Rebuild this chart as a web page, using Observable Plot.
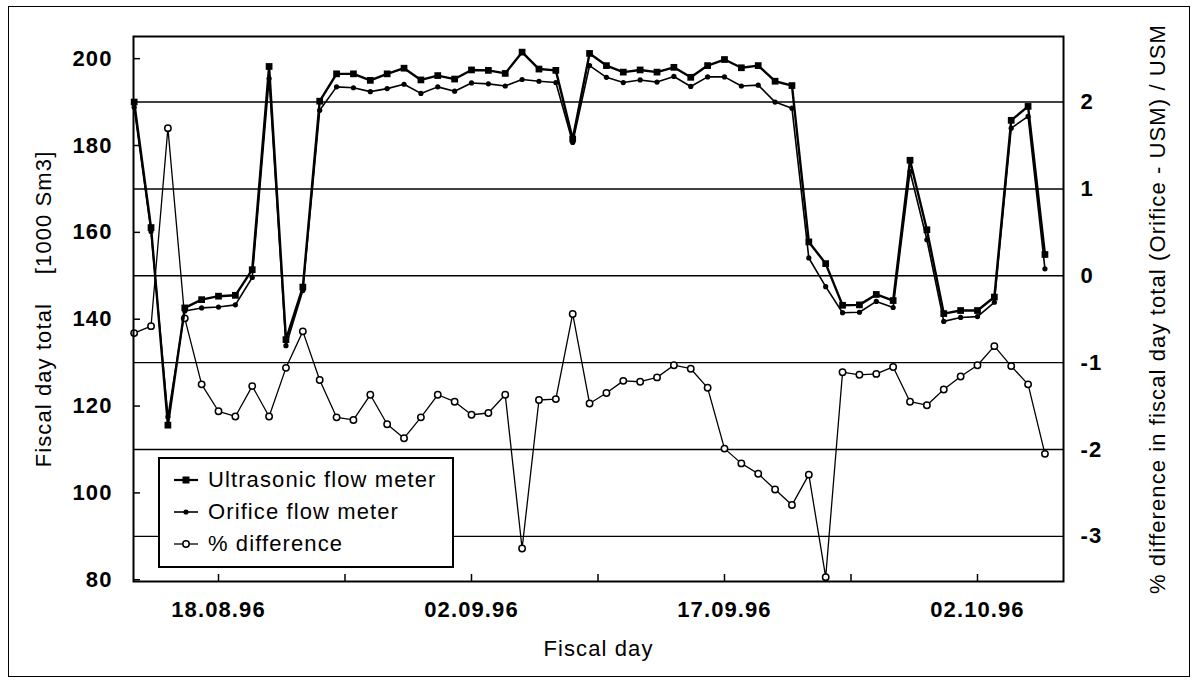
<!DOCTYPE html>
<html><head><meta charset="utf-8">
<script src="https://cdn.jsdelivr.net/npm/d3@7"></script>
<script src="https://cdn.jsdelivr.net/npm/@observablehq/plot@0.6"></script>
<style>
html,body{margin:0;padding:0;background:#fff;}
#wrap{position:relative;width:1196px;height:684px;overflow:hidden;}
#wrap svg text{font-family:"Liberation Sans",Arial,sans-serif;letter-spacing:1.1px;}
#border{position:absolute;left:8px;top:6px;width:1180px;height:669px;border:1.5px solid #000;pointer-events:none;}
#legend{position:absolute;left:158px;top:457px;width:292px;height:107px;border:2px solid #000;background:#fff;font-family:"Liberation Sans",Arial,sans-serif;font-size:22px;letter-spacing:1.1px;color:#000;}
.row{position:absolute;left:13px;height:30px;display:flex;align-items:center;white-space:nowrap;}
.row svg{margin-right:9px;}
</style></head><body>
<div id="wrap"><div id="chart"></div><div id="legend"></div><div id="border"></div></div>
<script>
// Fiscal days (x categories)
const days = [
  "1996-08-13","1996-08-14","1996-08-15","1996-08-16","1996-08-17","1996-08-18","1996-08-19","1996-08-20","1996-08-21","1996-08-22",
  "1996-08-23","1996-08-24","1996-08-25","1996-08-26","1996-08-27","1996-08-28","1996-08-29","1996-08-30","1996-08-31","1996-09-01",
  "1996-09-02","1996-09-03","1996-09-04","1996-09-05","1996-09-06","1996-09-07","1996-09-08","1996-09-09","1996-09-10","1996-09-11",
  "1996-09-12","1996-09-13","1996-09-14","1996-09-15","1996-09-16","1996-09-17","1996-09-18","1996-09-19","1996-09-20","1996-09-21",
  "1996-09-22","1996-09-23","1996-09-24","1996-09-25","1996-09-26","1996-09-27","1996-09-28","1996-09-29","1996-09-30","1996-10-01",
  "1996-10-02","1996-10-03","1996-10-04","1996-10-05","1996-10-06"
];
// Ultrasonic flow meter, fiscal day total [1000 Sm3]
const usm = [190.0,161.1,115.6,142.6,144.5,145.3,145.5,151.4,198.2,135.3,
  147.4,190.2,196.5,196.5,195.0,196.5,197.8,195.1,196.1,195.3,
  197.4,197.3,196.6,201.5,197.6,197.3,181.5,201.2,198.4,196.9,
  197.4,196.9,198.0,195.7,198.4,199.8,197.9,198.4,194.8,193.8,
  157.8,152.8,143.2,143.3,145.7,144.3,176.6,160.6,141.3,142.0,
  142.0,145.1,185.8,189.0,154.9];
// Orifice flow meter, fiscal day total [1000 Sm3]
const orifice = [188.8,160.2,117.5,141.9,142.6,142.8,143.3,149.6,195.4,133.9,
  146.6,188.1,193.5,193.3,192.4,193.1,194.1,192.0,193.5,192.5,
  194.4,194.2,193.7,195.2,194.8,194.5,180.7,198.4,195.7,194.5,
  195.1,194.6,195.9,193.6,195.8,195.8,193.7,193.9,190.0,188.6,
  154.1,147.5,141.5,141.6,144.1,142.7,174.0,158.3,139.5,140.4,
  140.6,143.9,184.0,186.7,151.6];
// % difference (Orifice - USM) / USM
const pct = [-0.66,-0.58,1.70,-0.49,-1.25,-1.56,-1.62,-1.27,-1.62,-1.06,
  -0.64,-1.20,-1.63,-1.66,-1.37,-1.71,-1.87,-1.63,-1.37,-1.45,
  -1.60,-1.58,-1.37,-3.14,-1.43,-1.42,-0.44,-1.47,-1.35,-1.21,
  -1.22,-1.17,-1.03,-1.07,-1.29,-1.99,-2.16,-2.28,-2.46,-2.64,
  -2.29,-3.47,-1.11,-1.14,-1.13,-1.05,-1.45,-1.49,-1.31,-1.16,
  -1.03,-0.81,-1.04,-1.25,-2.05];

const leftTicks = [80,100,120,140,160,180,200];
const rightTicks = [-3,-2,-1,0,1,2];
const xLabelDays = ["1996-08-18","1996-09-02","1996-09-17","1996-10-02"];
const xMinorDays = ["1996-08-25T12:00","1996-09-09T12:00","1996-09-24T12:00"];
const leftTitle = "Fiscal day total\u00a0\u00a0\u00a0\u00a0[1000 Sm3]";
const rightTitle = "% difference in fiscal day total (Orifice - USM) / USM";
const xTitle = "Fiscal day";
const legendItems = ["Ultrasonic flow meter","Orifice flow meter","% difference"];

// right axis (%) mapped onto left axis units
const toLeft = p => 150 + 20 * p;
const parse = s => new Date(s.length > 10 ? s + "Z" : s);
const DAY = 864e5;
const t0 = parse(days[0]).getTime();

const data = days.map((d, i) => ({date: parse(d), usm: usm[i], orifice: orifice[i], pct: pct[i]}));
const fmt = d3.utcFormat("%d.%m.%y");

const chart = Plot.plot({
  width: 1196, height: 684,
  marginLeft: 133, marginRight: 133, marginTop: 36, marginBottom: 103,
  x: {type: "utc", domain: [new Date(t0 - 0.04 * DAY), new Date(t0 + 55.1 * DAY)]},
  y: {domain: [79.6, 205.1]},
  style: {background: "transparent", color: "#000", fontSize: "22px", fontFamily: "Liberation Sans, Arial, sans-serif"},
  marks: [
    Plot.ruleY(rightTicks.map(toLeft), {stroke: "#000", strokeWidth: 1.4}),
    Plot.line(data, {x: "date", y: d => toLeft(d.pct), stroke: "#000", strokeWidth: 1.3}),
    Plot.dot(data, {x: "date", y: d => toLeft(d.pct), r: 3.2, fill: "#fff", stroke: "#000", strokeWidth: 1.5}),
    Plot.line(data, {x: "date", y: "orifice", stroke: "#000", strokeWidth: 1.6}),
    Plot.dot(data, {x: "date", y: "orifice", r: 2.6, fill: "#000", stroke: "none"}),
    Plot.line(data, {x: "date", y: "usm", stroke: "#000", strokeWidth: 2.4}),
    Plot.dot(data, {x: "date", y: "usm", symbol: "square", r: 3.8, fill: "#000", stroke: "none"}),
    Plot.frame({stroke: "#000", strokeWidth: 2}),
    // left axis
    Plot.axisY({anchor: "left", ticks: leftTicks, tickSize: 0, tickPadding: 21, fontWeight: "bold", label: null}),
    Plot.axisY({anchor: "left", ticks: leftTicks, tickSize: -7, tickFormat: () => "", label: null, strokeWidth: 1.5}),
    Plot.axisY({anchor: "left", ticks: [], label: leftTitle, labelAnchor: "center", labelOffset: 98, labelArrow: "none"}),
    // right axis
    Plot.axisY({anchor: "right", ticks: rightTicks.map(toLeft), tickFormat: d => String(Math.round((d - 150) / 20)), tickSize: 0, tickPadding: 17, fontWeight: "bold", label: null}),
    Plot.axisY({anchor: "right", ticks: [], label: rightTitle, labelAnchor: "center", labelOffset: 101, labelArrow: "none", dy: 8}),
    // x axis
    Plot.axisX({ticks: xLabelDays.map(parse), tickFormat: fmt, tickSize: 0, tickPadding: 20, fontWeight: "bold", label: null}),
    Plot.axisX({ticks: xLabelDays.concat(xMinorDays).map(parse), tickSize: -7, tickFormat: () => "", label: null, strokeWidth: 1.5}),
    Plot.axisX({ticks: [], label: xTitle, labelAnchor: "center", labelOffset: 74, labelArrow: "none"})
  ]
});
document.getElementById("chart").appendChild(chart);

// legend
const sym = [
  `<line x1="1" y1="7" x2="25" y2="7" stroke="#000" stroke-width="2.2"/><rect x="9.5" y="3.5" width="7" height="7" fill="#000"/>`,
  `<line x1="1" y1="7" x2="25" y2="7" stroke="#000" stroke-width="1.6"/><circle cx="13" cy="7" r="2.6" fill="#000"/>`,
  `<line x1="1" y1="7" x2="25" y2="7" stroke="#000" stroke-width="1.3"/><circle cx="13" cy="7" r="3.2" fill="#fff" stroke="#000" stroke-width="1.5"/>`
];
const lg = document.getElementById("legend");
legendItems.forEach((t, i) => {
  const row = document.createElement("div");
  row.className = "row";
  row.style.top = (6 + i * 32) + "px";
  row.innerHTML = `<svg width="26" height="14">${sym[i]}</svg><span>${t}</span>`;
  lg.appendChild(row);
});
</script>
</body></html>
